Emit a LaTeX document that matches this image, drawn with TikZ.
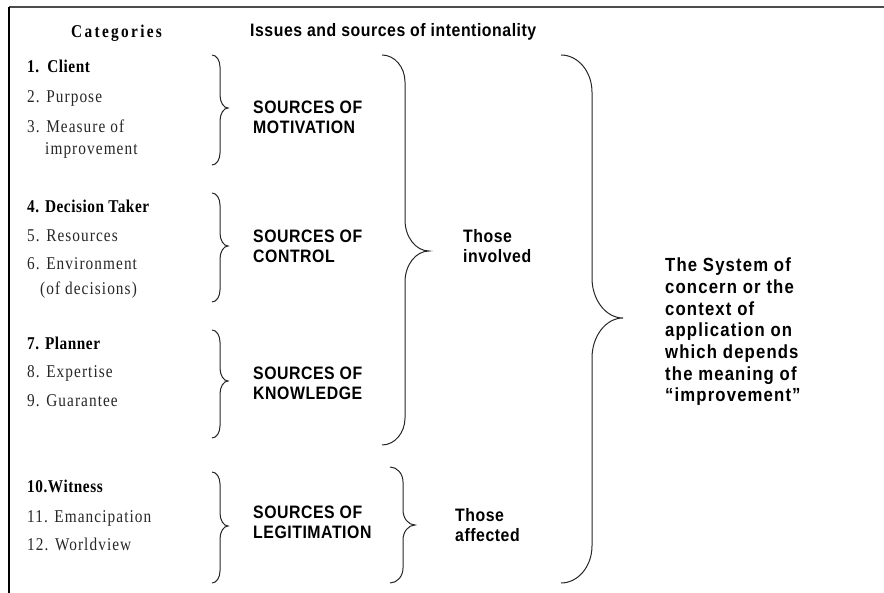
\documentclass[tikz,border=0pt]{standalone}
\usepackage{fontspec}
\setmainfont{Liberation Serif}
\newfontfamily\catfont[FakeStretch=0.85,LetterSpace=6]{Liberation Serif}
\newfontfamily\catboldfont[FakeStretch=0.85,LetterSpace=3]{Liberation Serif}
\newfontfamily\catheadfont[FakeStretch=0.85,LetterSpace=13]{Liberation Serif}
\newfontfamily\labfont[FakeStretch=0.88,LetterSpace=3]{Liberation Sans}
\newfontfamily\sysfont[FakeStretch=0.88,LetterSpace=6]{Liberation Sans}
\newcommand\mybrace[8]{% x0, xv, xt, ytop, ymid, ybot, hook, mid
  \draw[bracestyle] (#1,#4) .. controls ({#1+0.55*(#2-#1)},#4) and (#2,{#4+0.45*#7}) .. (#2,{#4+#7})
    -- (#2,{#5-#8}) .. controls (#2,{#5-0.45*#8}) and ({#3-0.55*(#3-#2)},#5) .. (#3,#5)
    .. controls ({#3-0.55*(#3-#2)},#5) and (#2,{#5+0.45*#8}) .. (#2,{#5+#8})
    -- (#2,{#6-#7}) .. controls (#2,{#6-0.45*#7}) and ({#1+0.55*(#2-#1)},#6) .. (#1,#6);}
\tikzset{
  bracestyle/.style={line width=1pt, black!85},
  cat/.style={anchor=base west, inner sep=0pt, font=\fontsize{18}{20}\catfont, text=black!85},
  catb/.style={anchor=base west, inner sep=0pt, font=\fontsize{18}{20}\catboldfont\bfseries},
  cathead/.style={anchor=base west, inner sep=0pt, font=\fontsize{18}{20}\catheadfont\bfseries},
  lab/.style={anchor=base west, inner sep=0pt, align=left, font=\fontsize{18}{20}\labfont\bfseries},
  sys/.style={anchor=base west, inner sep=0pt, align=left, font=\fontsize{19}{21.7}\sysfont\bfseries},
}
\begin{document}
\begin{tikzpicture}[x=1pt,y=-1pt]
\useasboundingbox (0,0) rectangle (884,593);
% frame
\draw[line width=1.5pt, black!70] (9,7) -- (884,7);
\draw[line width=1.5pt, black] (9,7) -- (9,593);
% headings
\node[cathead] (hcat) at (71,38) {Categories};
\node[lab] (hiss) at (250,37) {Issues and sources of intentionality};
% categories
\node[catb] (c1) at (27,73) {1.\hspace{0.45em}Client};
\node[cat] (c2) at (27,103) {2. Purpose};
\node[cat] (c3) at (27,133) {3. Measure of};
\node[cat] (c3b) at (45,155) {improvement};
\node[catb] (c4) at (27,213) {4. Decision Taker};
\node[cat] (c5) at (27,242) {5. Resources};
\node[cat] (c6) at (27,270) {6. Environment};
\node[cat] (c6b) at (40,295) {(of decisions)};
\node[catb] (c7) at (27,350) {7. Planner};
\node[cat] (c8) at (27,378) {8. Expertise};
\node[cat] (c9) at (27,407) {9. Guarantee};
\node[catb] (c10) at (27,493) {10.Witness};
\node[cat] (c11) at (27,522) {11. Emancipation};
\node[cat] (c12) at (27,550) {12. Worldview};
% small braces
\mybrace{212}{220}{228}{55}{108}{165}{12}{13}
\mybrace{212}{220}{228}{193}{246}{302}{12}{13}
\mybrace{212}{220}{228}{330}{381}{438}{12}{13}
\mybrace{212}{220}{228}{472}{526}{583}{12}{13}
% sources (anchor = baseline of last line)
\node[lab] (smot) at (253,134) {SOURCES OF\\MOTIVATION};
\node[lab] (sctl) at (253,263) {SOURCES OF\\CONTROL};
\node[lab] (sknw) at (253,400) {SOURCES OF\\KNOWLEDGE};
\node[lab] (sleg) at (253,538) {SOURCES OF\\LEGITIMATION};
% big braces
\mybrace{382}{405}{429}{55}{251}{445}{27}{31}
\mybrace{390}{403}{415}{467}{525}{583}{15}{15}
\node[lab] (inv) at (463,263) {Those\\involved};
\node[lab] (aff) at (455,541) {Those\\affected};
% right brace
\mybrace{561}{592}{623}{55}{318}{583}{37}{40}
\node[sys] (sys) at (665,402) {The System of\\concern or the\\context of\\application on\\which depends\\the meaning of\\“improvement”};
\end{tikzpicture}
\end{document}
